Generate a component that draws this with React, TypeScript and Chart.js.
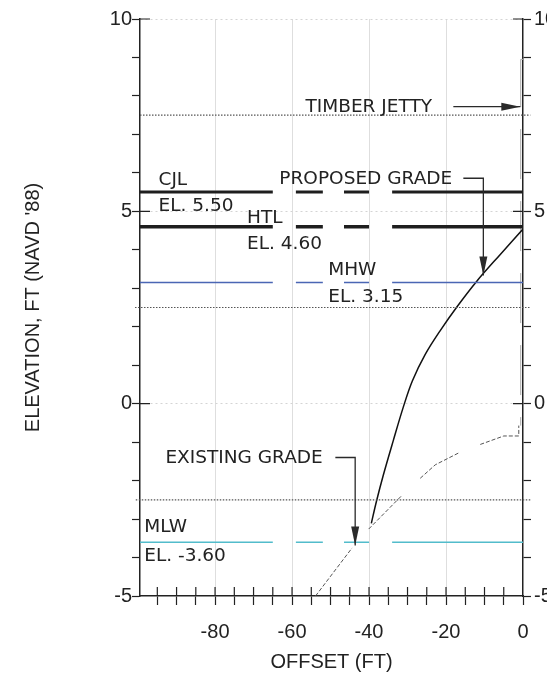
import React, { useEffect, useRef } from 'react';
import { Chart, registerables } from 'chart.js';

Chart.register(...registerables);

// ---- axes ----
const X_MIN = -99.5;
const X_MAX = 0;
const Y_MIN = -5;
const Y_MAX = 10;
const xTickValues = [-95, -90, -85, -80, -75, -70, -65, -60, -55, -50, -45, -40, -35, -30, -25, -20, -15, -10, -5, 0];
const xLabelValues = [-80, -60, -40, -20, 0];
const yTickValues = [-5, -4, -3, -2, -1, 0, 1, 2, 3, 4, 5, 6, 7, 8, 9, 10];
const yLabelValues = [-5, 0, 5, 10];

// ---- water / design levels ----
const levelNames = ['CJL', 'HTL', 'MHW', 'MLW'];
const levelElevations = [5.5, 4.6, 3.15, -3.6];
const levelSegmentStarts = [-99.5, -59, -46.5, -34];
const levelSegmentEnds = [-65, -52, -40, 0];

// ---- thin reference lines ----
const referenceElevations = [7.5, 2.5, -2.5];
const referenceStarts = [-99.5, -100.8, -100.6];
const referenceEnds = [1.9, 1.9, 1.9];

// ---- proposed grade ----
const proposedOffset = [-39.4, -38.1, -36.3, -33.7, -31.1, -28.75, -25.4, -21.5, -17.14, -11.95, -5.9, 0];
const proposedElev = [-3.11, -2.55, -1.86, -0.96, -0.09, 0.59, 1.28, 1.9, 2.52, 3.19, 3.88, 4.54];

// ---- existing grade (null = break in the dashed line) ----
const existingOffset = [-53.9, -44.4, -42, -40.1, -31.4, -29, -26.7, -22.8, -16.7, -14, -11.1, -5.0, -1.1, -1.1];
const existingElev = [-5, -3.75, null, -3.26, -2.38, null, -1.94, -1.59, -1.28, null, -1.06, -0.84, -0.84, -0.57];

// ---- timber jetty ----
const jettyOffset = [0, -0.6, -0.6];
const jettyElev = [8.95, 8.95, -0.57];

// ---- annotations (data coordinates) ----
const textLabels = [
  { text: 'TIMBER JETTY', x: -56.5, y: 7.72 },
  { text: 'CJL', x: -94.7, y: 5.82 },
  { text: 'EL. 5.50', x: -94.7, y: 5.13 },
  { text: 'PROPOSED GRADE', x: -63.3, y: 5.84 },
  { text: 'HTL', x: -71.7, y: 4.83 },
  { text: 'EL. 4.60', x: -71.7, y: 4.14 },
  { text: 'MHW', x: -50.6, y: 3.48 },
  { text: 'EL. 3.15', x: -50.6, y: 2.78 },
  { text: 'EXISTING GRADE', x: -92.9, y: -1.42 },
  { text: 'MLW', x: -98.4, y: -3.22 },
  { text: 'EL. -3.60', x: -98.4, y: -3.96 },
];
const leaderLines = [
  [[-18.1, 7.72], [-0.7, 7.72]],
  [[-15.5, 5.86], [-10.3, 5.86], [-10.3, 3.33]],
  [[-48.75, -1.4], [-43.6, -1.4], [-43.6, -3.69]],
];

const levelStyles = [
  { color: '#1e1e1e', width: 3 },
  { color: '#1e1e1e', width: 3.5 },
  { color: '#4a66b4', width: 1.5 },
  { color: '#52bccb', width: 1.5 },
];

function segmentPoints(y: number) {
  const pts: { x: number; y: number | null }[] = [];
  for (let i = 0; i < levelSegmentStarts.length; i++) {
    pts.push({ x: levelSegmentStarts[i], y }, { x: levelSegmentEnds[i], y });
    if (i < levelSegmentStarts.length - 1) {
      pts.push({ x: (levelSegmentEnds[i] + levelSegmentStarts[i + 1]) / 2, y: null });
    }
  }
  return pts;
}

const zip = (xs: number[], ys: (number | null)[]) => xs.map((x, i) => ({ x, y: ys[i] }));

const annotationPlugin = {
  id: 'annotationPlugin',
  afterDatasetsDraw(chart: any) {
    const { ctx, chartArea } = chart;
    const xs = chart.scales.x;
    const ys = chart.scales.y;
    ctx.save();
    // inward tick halves
    ctx.strokeStyle = '#222';
    ctx.lineWidth = 1.2;
    ctx.beginPath();
    xTickValues.forEach((v) => {
      if (v === X_MAX) return;
      const px = xs.getPixelForValue(v);
      ctx.moveTo(px, chartArea.bottom);
      ctx.lineTo(px, chartArea.bottom - 9);
    });
    yLabelValues.forEach((v) => {
      if (v === Y_MIN) return;
      const py = ys.getPixelForValue(v);
      ctx.moveTo(chartArea.left, py);
      ctx.lineTo(chartArea.left + 10, py);
      ctx.moveTo(chartArea.right - 10, py);
      ctx.lineTo(chartArea.right, py);
    });
    ctx.stroke();

    // leader lines with arrow heads
    ctx.strokeStyle = '#2a2a2a';
    ctx.fillStyle = '#2a2a2a';
    ctx.lineWidth = 1.3;
    leaderLines.forEach((path) => {
      const pts = path.map(([x, y]) => [xs.getPixelForValue(x), ys.getPixelForValue(y)]);
      ctx.beginPath();
      pts.forEach(([px, py], i) => (i === 0 ? ctx.moveTo(px, py) : ctx.lineTo(px, py)));
      ctx.stroke();
      const [tx, ty] = pts[pts.length - 1];
      const [sx, sy] = pts[pts.length - 2];
      const ang = Math.atan2(ty - sy, tx - sx);
      const len = 19;
      const half = 4;
      const bx = tx - Math.cos(ang) * len;
      const by = ty - Math.sin(ang) * len;
      ctx.beginPath();
      ctx.moveTo(tx, ty);
      ctx.lineTo(bx - Math.sin(ang) * half, by + Math.cos(ang) * half);
      ctx.lineTo(bx + Math.sin(ang) * half, by - Math.cos(ang) * half);
      ctx.closePath();
      ctx.fill();
    });

    // labels
    ctx.fillStyle = '#222';
    ctx.font = '18.5px "DejaVu Sans"';
    ctx.textBaseline = 'middle';
    ctx.textAlign = 'left';
    textLabels.forEach((l) => {
      ctx.fillText(l.text, xs.getPixelForValue(l.x), ys.getPixelForValue(l.y));
    });
    ctx.restore();
  },
};

export default function App() {
  const ref = useRef<HTMLCanvasElement>(null);
  useEffect(() => {
    const canvas = ref.current;
    if (!canvas) return;
    const datasets: any[] = [];
    levelElevations.forEach((el, i) => {
      datasets.push({
        label: levelNames[i],
        data: segmentPoints(el),
        showLine: true,
        borderColor: levelStyles[i].color,
        borderWidth: levelStyles[i].width,
        pointRadius: 0,
        spanGaps: false,
      });
    });
    referenceElevations.forEach((el, i) => {
      datasets.push({
        label: 'ref' + el,
        data: [{ x: referenceStarts[i], y: el }, { x: referenceEnds[i], y: el }],
        showLine: true,
        borderColor: '#555',
        borderWidth: 1.2,
        borderDash: [1.5, 1.5],
        pointRadius: 0,
        clip: false,
      });
    });
    datasets.push({
      label: 'Proposed grade',
      data: zip(proposedOffset, proposedElev),
      showLine: true,
      borderColor: '#111',
      borderWidth: 1.5,
      pointRadius: 0,
      tension: 0.35,
    });
    datasets.push({
      label: 'Existing grade',
      data: zip(existingOffset, existingElev),
      showLine: true,
      borderColor: '#555',
      borderWidth: 1,
      borderDash: [4, 2],
      pointRadius: 0,
      spanGaps: false,
    });
    datasets.push({
      label: 'Timber jetty',
      data: zip(jettyOffset, jettyElev),
      showLine: true,
      borderColor: '#aaa',
      borderWidth: 1,
      borderDash: [50, 22],
      pointRadius: 0,
      clip: false,
    });

    const tickFont = { family: 'Liberation Sans', size: 20 };
    const chart = new Chart(canvas, {
      type: 'scatter',
      data: { datasets },
      plugins: [annotationPlugin],
      options: {
        responsive: false,
        animation: false,
        devicePixelRatio: 1,
        layout: { padding: { top: 19, left: 0, right: 0, bottom: 0 } },
        plugins: { legend: { display: false }, tooltip: { enabled: false } },
        scales: {
          x: {
            type: 'linear',
            position: 'bottom',
            min: X_MIN,
            max: X_MAX,
            afterBuildTicks: (s: any) => {
              s.ticks = xTickValues.map((v) => ({ value: v }));
            },
            afterFit: (s: any) => {
              s.height = 81;
            },
            ticks: {
              autoSkip: false,
              maxRotation: 0,
              padding: 15,
              color: '#222',
              font: tickFont,
              callback: (v: any) => (xLabelValues.includes(Number(v)) ? String(v) : ''),
            },
            grid: {
              drawOnChartArea: true,
              color: (c: any) =>
                c.tick && xLabelValues.includes(c.tick.value) && c.tick.value !== 0 ? '#dedede' : 'rgba(0,0,0,0)',
              tickColor: '#222',
              tickLength: 9,
              tickWidth: 1.2,
            },
            border: { display: true, color: '#222', width: 1.5 },
            title: {
              display: true,
              text: 'OFFSET (FT)',
              color: '#222',
              font: { family: 'Liberation Sans', size: 20 },
              padding: { top: 0, bottom: 3 },
            },
          },
          y: {
            type: 'linear',
            position: 'left',
            min: Y_MIN,
            max: Y_MAX,
            afterBuildTicks: (s: any) => {
              s.ticks = yTickValues.map((v) => ({ value: v }));
            },
            afterFit: (s: any) => {
              s.width = 140;
            },
            ticks: {
              autoSkip: false,
              padding: 0,
              color: '#222',
              font: tickFont,
              callback: (v: any) => (yLabelValues.includes(Number(v)) ? String(v) : ''),
            },
            grid: {
              drawOnChartArea: true,
              color: (c: any) =>
                c.tick && c.tick.value % 5 === 0 && c.tick.value !== Y_MIN ? '#d4d4d4' : 'rgba(0,0,0,0)',
              tickColor: '#222',
              tickLength: 8,
              tickWidth: 1.2,
            },
            border: { display: true, color: '#222', width: 1.5, dash: [2, 3] },
            title: {
              display: true,
              text: "ELEVATION, FT (NAVD '88)",
              color: '#222',
              font: { family: 'Liberation Sans', size: 20 },
              padding: { top: 21, bottom: 0 },
            },
          },
          y2: {
            type: 'linear',
            position: 'right',
            min: Y_MIN,
            max: Y_MAX,
            afterBuildTicks: (s: any) => {
              s.ticks = yTickValues.map((v) => ({ value: v }));
            },
            afterFit: (s: any) => {
              s.width = 24;
            },
            ticks: {
              autoSkip: false,
              padding: 3,
              color: '#222',
              font: tickFont,
              callback: (v: any) => (yLabelValues.includes(Number(v)) ? String(v) : ''),
            },
            grid: {
              drawOnChartArea: false,
              tickColor: '#222',
              tickLength: 8,
              tickWidth: 1.2,
            },
            border: { display: true, color: '#222', width: 1.5 },
          },
        },
      } as any,
    });
    return () => chart.destroy();
  }, []);
  return (
    <div
      style={{
        position: 'fixed',
        left: 0,
        top: 0,
        width: 547,
        height: 677,
        overflow: 'hidden',
        background: '#fff',
      }}
    >
      <canvas ref={ref} width={547} height={677} style={{ display: 'block', width: 547, height: 677 }} />
    </div>
  );
}
